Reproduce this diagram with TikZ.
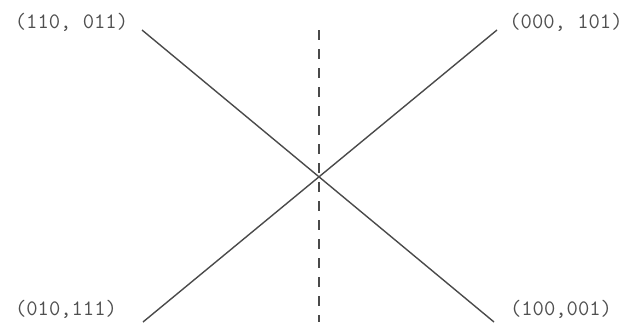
\documentclass[tikz,border=0pt]{standalone}
\usepackage{xcolor}
\usetikzlibrary{positioning}

\definecolor{linegray}{HTML}{4A4A4A}
\definecolor{textgray}{HTML}{4F4F4F}

\begin{document}
\begin{tikzpicture}[
  x=1pt, y=-1pt,
  lbl/.style={inner sep=0pt, text=textgray, font=\ttfamily\fontsize{22}{22}\selectfont},
  wire/.style={draw=linegray, line width=1.4pt},
  axis/.style={draw=linegray, line width=1.6pt, dash pattern=on 10pt off 9pt}
]
\useasboundingbox (0,0) rectangle (639,322);

% end points of the two crossing lines
\coordinate (tl) at (142,30);
\coordinate (tr) at (497,30);
\coordinate (bl) at (143,322);
\coordinate (br) at (494,322);
\coordinate (top) at (319,30);
\coordinate (bot) at (319,322);

\node[lbl] at (71.5,22) (ntl) {(110, 011)};
\node[lbl] at (566,22) (ntr) {(000, 101)};
\node[lbl] at (66,309) (nbl) {(010,111)};
\node[lbl] at (561,309) (nbr) {(100,001)};

\draw[wire] (tl) -- (br);
\draw[wire] (tr) -- (bl);
\draw[axis] (top) -- (bot);
\end{tikzpicture}
\end{document}
